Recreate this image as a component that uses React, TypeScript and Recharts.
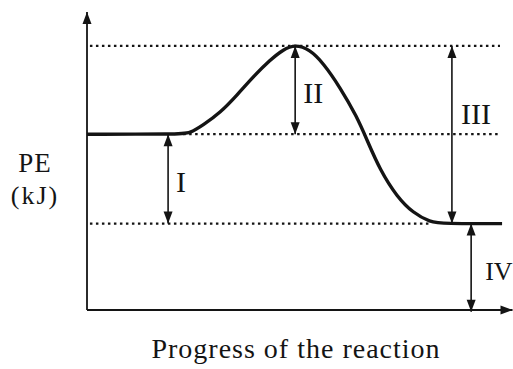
import React from "react";
import { LineChart, Line, XAxis, YAxis, ReferenceLine } from "recharts";

// curve of the potential energy diagram
const progress = [0, 22, 24.6, 27.8, 31.8, 35.9, 39.7, 43.8, 46.9, 49.8, 53.3, 56.5, 60.5, 64.6, 67, 70.1, 74.2, 78, 82.1, 85.2, 99.3];
const energy = [59, 59, 59.3, 62.1, 66.1, 72.1, 78.2, 83.9, 87.4, 89.1, 87.4, 82.9, 74.8, 64.8, 57, 47, 37.9, 32.6, 29.5, 29, 29];

// dotted guide levels (peak, reactants, products)
const guideLevels = [88.6, 59, 29];
const guideStart = [0.7, 23, 0.7];
const guideEnd = [98.8, 98.8, 82];

// double-headed arrows
const arrowLabels = ["I", "II", "III", "IV"];
const arrowX = [19.4, 49.8, 87.3, 91.9];
const arrowFrom = [59, 88.6, 88.6, 29];
const arrowTo = [29, 59, 29, -0.6];

// label offsets from arrow midpoint (px), baseline
const LABEL_OFFSET: Record<string, [number, number]> = {
  I: [13, 13],
  II: [18, 12.5],
  III: [24, -11],
  IV: [14, 12],
};

const data = progress.map((p, i) => ({ x: p, pe: energy[i] }));

const INK = "#141414";
const FONT = "'Liberation Serif', 'DejaVu Serif', serif";

function head(x: number, y: number, dx: number, dy: number) {
  // filled triangle pointing along (dx,dy) with tip at (x,y)
  const len = Math.hypot(dx, dy) || 1;
  const ux = dx / len;
  const uy = dy / len;
  const L = 12;
  const W = 4.5;
  const bx = x - ux * L;
  const by = y - uy * L;
  return `${x},${y} ${bx - uy * W},${by + ux * W} ${bx + uy * W},${by - ux * W}`;
}

function makeArrow(label: string | null, both: boolean, width = 1.6) {
  return (props: any) => {
    const { x1, y1, x2, y2 } = props;
    if (x1 == null) return null;
    const off = label ? LABEL_OFFSET[label] : [0, 0];
    return (
      <g>
        <line x1={x1} y1={y1} x2={x2} y2={y2} stroke={INK} strokeWidth={width} />
        <polygon points={head(x2, y2, x2 - x1, y2 - y1)} fill={INK} />
        {both && <polygon points={head(x1, y1, x1 - x2, y1 - y2)} fill={INK} />}
        {label && (
          <text
            x={(x1 + x2) / 2 + off[0]}
            y={(y1 + y2) / 2 + off[1]}
            fontFamily={FONT}
            fontSize={label === "IV" ? 26 : 30}
            fill={INK}
            textAnchor={label === "IV" ? "start" : "middle"}
          >
            {label}
          </text>
        )}
      </g>
    );
  };
}

const YLabel = (props: any) => {
  const vb = props.viewBox || { x: 0, y: 12, width: 87, height: 298 };
  const cx = vb.x + 35;
  return (
    <g fontFamily={FONT} fill={INK}>
      <text x={cx} y={vb.y + 160} fontSize={27} letterSpacing={1} textAnchor="middle">
        PE
      </text>
      <text x={cx} y={vb.y + 192} fontSize={26} letterSpacing={2} textAnchor="middle">
        (kJ)
      </text>
    </g>
  );
};

const XLabel = (props: any) => {
  const vb = props.viewBox || { x: 87, y: 310, width: 418, height: 59 };
  return (
    <text
      x={vb.x + vb.width / 2}
      y={vb.y + 48}
      fontFamily={FONT}
      fontSize={28}
      letterSpacing={1}
      fill={INK}
      textAnchor="middle"
    >
      Progress of the reaction
    </text>
  );
};

export default function App() {
  return (
    <div style={{ position: "absolute", left: 0, top: 0, width: 513, height: 369, background: "#fff" }}>
      <LineChart width={513} height={369} data={data} margin={{ top: 12, right: 8, bottom: 0, left: 0 }}>
        <XAxis
          type="number"
          dataKey="x"
          domain={[0, 100]}
          tick={false}
          tickLine={false}
          axisLine={false}
          height={59}
          allowDataOverflow
          label={{ content: XLabel }}
        />
        <YAxis
          type="number"
          domain={[0, 100]}
          tick={false}
          tickLine={false}
          axisLine={false}
          width={87}
          allowDataOverflow
          label={{ content: YLabel }}
        />
        {guideLevels.map((lv, i) => (
          <ReferenceLine
            key={`g${i}`}
            segment={[
              { x: guideStart[i], y: lv },
              { x: guideEnd[i], y: lv },
            ]}
            stroke={INK}
            strokeWidth={2.2}
            strokeDasharray="2.5 3.5"
            ifOverflow="visible"
          />
        ))}
        <Line
          type="basis"
          dataKey="pe"
          stroke={INK}
          strokeWidth={3.4}
          dot={false}
          isAnimationActive={false}
        />
        {arrowLabels.map((lb, i) => (
          <ReferenceLine
            key={`a${i}`}
            segment={[
              { x: arrowX[i], y: arrowFrom[i] },
              { x: arrowX[i], y: arrowTo[i] },
            ]}
            ifOverflow="visible"
            shape={makeArrow(lb, true)}
          />
        ))}
        {/* axes with arrow tips */}
        <ReferenceLine
          segment={[
            { x: 0, y: 0 },
            { x: 0, y: 100 },
          ]}
          ifOverflow="visible"
          shape={makeArrow(null, false, 1.8)}
        />
        <ReferenceLine
          segment={[
            { x: 0, y: 0 },
            { x: 101.8, y: 0 },
          ]}
          ifOverflow="visible"
          shape={makeArrow(null, false, 1.8)}
        />
      </LineChart>
    </div>
  );
}
